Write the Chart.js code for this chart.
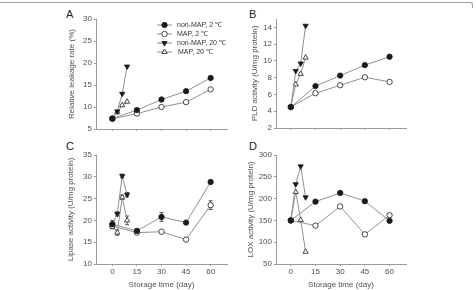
<!DOCTYPE html>
<html><head><meta charset="utf-8">
<script src="https://cdn.jsdelivr.net/npm/chart.js@4"></script>
<style>
body{margin:0;width:476px;height:290px;background:#fff;position:relative;overflow:hidden;font-family:"Liberation Sans",Arial,sans-serif}
canvas{position:absolute}
.lbl{position:absolute;font-size:11px;color:#222;line-height:11px}
.frame{position:absolute;left:-3px;top:2px;width:475px;height:5px;border-top:1.5px solid #a0a0a0;border-right:1.5px solid #a0a0a0;border-top-right-radius:3px}
</style></head><body>
<div class="frame"></div>
<div class="lbl" style="left:66px;top:9px">A</div>
<div class="lbl" style="left:249px;top:9px">B</div>
<div class="lbl" style="left:66px;top:141px">C</div>
<div class="lbl" style="left:249px;top:141px">D</div>
<canvas id="cA" width="240" height="140" style="left:0;top:0"></canvas>
<canvas id="cB" width="236" height="140" style="left:240px;top:0"></canvas>
<canvas id="cC" width="240" height="150" style="left:0;top:140px"></canvas>
<canvas id="cD" width="236" height="150" style="left:240px;top:140px"></canvas>
<script>
// ---- data ----
const seriesNames = ['non-MAP, 2 \u2103', 'MAP, 2 \u2103', 'non-MAP, 20 \u2103', 'MAP, 20 \u2103'];
const days2 = [0, 15, 30, 45, 60];
const days20 = [0, 3, 6, 9];
const xTicks = [0, 15, 30, 45, 60];

const leakNonMAP2 = [7.4, 9.3, 11.7, 13.6, 16.6];
const leakMAP2 = [7.3, 8.5, 10.0, 11.1, 14.0];
const leakNonMAP20 = [7.4, 9.0, 13.0, 19.2];
const leakMAP20 = [7.3, 8.8, 10.4, 11.2];

const pldNonMAP2 = [4.5, 7.0, 8.25, 9.5, 10.5];
const pldMAP2 = [4.5, 6.15, 7.1, 8.05, 7.5];
const pldNonMAP20 = [4.5, 8.8, 9.7, 14.2];
const pldMAP20 = [4.5, 7.2, 8.45, 10.4];

const lipNonMAP2 = [19.1, 17.6, 20.8, 19.5, 28.8];
const lipMAP2 = [18.7, 17.2, 17.4, 15.6, 23.5];
const lipNonMAP20 = [19.0, 21.5, 30.2, 25.9];
const lipMAP20 = [18.8, 17.2, 25.3, 20.0];
const lipErrNonMAP2 = [0.9, 0.4, 1.0, 0.3, 0.4];
const lipErrMAP2 = [0.6, 0.4, 0.3, 0.3, 1.0];
const lipErrNonMAP20 = [0.9, 0.5, 0.4, 0.5];
const lipErrMAP20 = [0.6, 0.6, 0.5, 1.0];

const loxNonMAP2 = [150, 193, 213, 194, 149];
const loxMAP2 = [150, 138, 182, 118, 162];
const loxNonMAP20 = [150, 233, 274, 203];
const loxMAP20 = [150, 215, 151, 78];

// ---- styling ----
const LINE = '#909090', INK = '#1a1a1a', AXIS = '#9a9a9a', TXT = '#505050';
const FONT = '"Liberation Sans", Arial, sans-serif';
const styles = [
  {pointStyle:'circle', pointRadius:2.7, pointRotation:0, pointBackgroundColor:INK},
  {pointStyle:'circle', pointRadius:2.7, pointRotation:0, pointBackgroundColor:'#fff'},
  {pointStyle:'triangle', pointRadius:3, pointRotation:180, pointBackgroundColor:INK},
  {pointStyle:'triangle', pointRadius:3, pointRotation:0, pointBackgroundColor:'#fff'}
];

function mkSets(vals, errs){
  const xs = [days2, days2, days20, days20];
  return vals.map((v, i) => Object.assign({
    label: seriesNames[i],
    data: v.map((y, k) => ({x: xs[i][k], y})),
    errors: errs ? errs[i] : null,
    borderColor: LINE, borderWidth: 1, pointBorderColor: INK, pointBorderWidth: 0.8,
    showLine: true, fill: false, tension: 0
  }, styles[i]));
}

const legendPlugin = {
  id: 'lg',
  afterDraw(chart){
    if (!chart.options.plugins.lg || !chart.options.plugins.lg.show) return;
    const ctx = chart.ctx;
    ctx.save();
    ctx.font = '7px ' + FONT;
    ctx.textBaseline = 'middle';
    chart.data.datasets.forEach((ds, i) => {
      const y = 25 + i * 9;
      ctx.strokeStyle = LINE; ctx.lineWidth = 1;
      ctx.beginPath(); ctx.moveTo(157, y); ctx.lineTo(172, y); ctx.stroke();
      ctx.fillStyle = ds.pointBackgroundColor; ctx.strokeStyle = INK; ctx.lineWidth = 0.8;
      Chart.helpers.drawPoint(ctx, {pointStyle: ds.pointStyle, radius: ds.pointRadius, rotation: ds.pointRotation, borderWidth: 0.8}, 164.5, y);
      ctx.fillStyle = '#333';
      ctx.fillText(ds.label, i === 3 ? 178 : 177, y);
    });
    ctx.restore();
  }
};

const errPlugin = {
  id: 'eb',
  beforeDatasetsDraw(chart){
    const ctx = chart.ctx, ys = chart.scales.y;
    ctx.save(); ctx.strokeStyle = '#555'; ctx.lineWidth = 1;
    chart.data.datasets.forEach((ds, i) => {
      if (!ds.errors) return;
      const meta = chart.getDatasetMeta(i);
      meta.data.forEach((el, k) => {
        const v = ds.data[k].y, e = ds.errors[k];
        const y1 = ys.getPixelForValue(v + e), y2 = ys.getPixelForValue(v - e);
        ctx.beginPath();
        ctx.moveTo(el.x, y1); ctx.lineTo(el.x, y2);
        ctx.moveTo(el.x - 2, y1); ctx.lineTo(el.x + 2, y1);
        ctx.moveTo(el.x - 2, y2); ctx.lineTo(el.x + 2, y2);
        ctx.stroke();
      });
    });
    ctx.restore();
  }
};

function makeChart(id, o){
  return new Chart(document.getElementById(id), {
    type: 'scatter',
    data: {datasets: mkSets(o.vals, o.errs)},
    plugins: [legendPlugin, errPlugin],
    options: {
      responsive: false, animation: false, devicePixelRatio: 1,
      layout: {padding: {left: o.padL, top: o.padT, right: o.padR, bottom: 0}},
      plugins: {legend: {display: false}, tooltip: {enabled: false}, lg: {show: !!o.legend}},
      scales: {
        x: {
          type: 'linear', min: o.xmin, max: 70,
          afterBuildTicks(s){ s.ticks = xTicks.map(v => ({value: v})); },
          afterFit(s){ s.height = o.xH; },
          border: {display: true, color: AXIS, width: 1},
          grid: {display: true, drawOnChartArea: false, drawTicks: true, tickLength: 2, color: AXIS},
          ticks: {display: o.xLabels, color: TXT, font: {family: FONT, size: 8}, padding: 1, maxRotation: 0},
          title: {display: o.xLabels, text: 'Storage time (day)', color: TXT, font: {family: FONT, size: 8}, padding: {top: 0, bottom: 0}}
        },
        y: {
          min: o.ymin, max: o.ymax,
          afterBuildTicks(s){ s.ticks = o.yTicks.map(v => ({value: v})); },
          afterFit(s){ s.width = o.yW; },
          border: {display: true, color: AXIS, width: 1},
          grid: {display: true, drawOnChartArea: false, drawTicks: true, tickLength: 2, color: AXIS},
          ticks: {color: TXT, font: {family: FONT, size: 8}, padding: 2},
          title: {display: true, text: o.yTitle, color: TXT, font: {family: FONT, size: 8}, padding: {top: 0, bottom: 0}}
        }
      }
    }
  });
}

const leakTicks = [5, 10, 15, 20, 25, 30];
const pldTicks = [2, 4, 6, 8, 10, 12, 14];
const lipTicks = [10, 15, 20, 25, 30, 35];
const loxTicks = [50, 100, 150, 200, 250, 300];

makeChart('cA', {vals: [leakNonMAP2, leakMAP2, leakNonMAP20, leakMAP20], legend: true,
  padL: 67, padT: 19, padR: 13, yW: 29, xH: 11, xLabels: false, xmin: -10,
  ymin: 5, ymax: 30, yTicks: leakTicks, yTitle: 'Relative leakage rate (%)'});
makeChart('cB', {vals: [pldNonMAP2, pldMAP2, pldNonMAP20, pldMAP20],
  padL: 10, padT: 19, padR: 70, yW: 26, xH: 12, xLabels: false, xmin: -9,
  ymin: 2, ymax: 15, yTicks: pldTicks, yTitle: 'PLD activity (U/mg protein)'});
makeChart('cC', {vals: [lipNonMAP2, lipMAP2, lipNonMAP20, lipMAP20], errs: [lipErrNonMAP2, lipErrMAP2, lipErrNonMAP20, lipErrMAP20],
  padL: 66, padT: 15, padR: 13, yW: 30, xH: 26, xLabels: true, xmin: -10,
  ymin: 10, ymax: 35, yTicks: lipTicks, yTitle: 'Lipase activity (U/mg protein)'});
makeChart('cD', {vals: [loxNonMAP2, loxMAP2, loxNonMAP20, loxMAP20],
  padL: 6, padT: 15, padR: 70, yW: 30, xH: 26, xLabels: true, xmin: -9,
  ymin: 50, ymax: 300, yTicks: loxTicks, yTitle: 'LOX activity (U/mg protein)'});
</script>
</body></html>
